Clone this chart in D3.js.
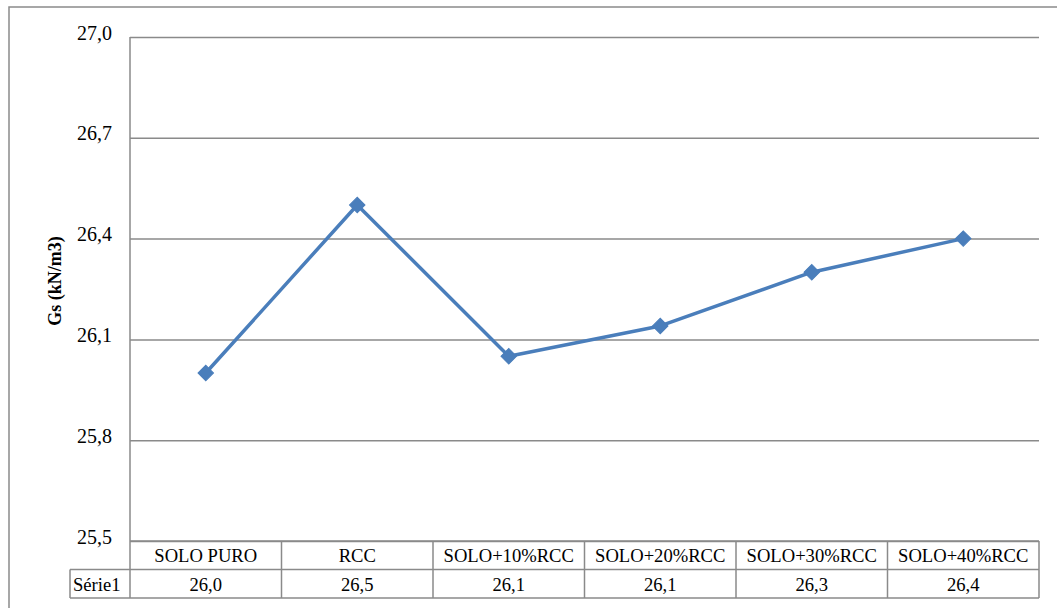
<!DOCTYPE html>
<html>
<head>
<meta charset="utf-8">
<script src="https://cdn.jsdelivr.net/npm/d3@7"></script>
<style>
  html, body { margin: 0; padding: 0; background: #fff; }
  svg { display: block; }
  svg text { font-family: "Times New Roman", "Liberation Serif", "DejaVu Serif", serif !important; }
</style>
</head>
<body>
<svg id="chart" width="1057" height="608"></svg>
<script>
const categories = ["SOLO PURO", "RCC", "SOLO+10%RCC", "SOLO+20%RCC", "SOLO+30%RCC", "SOLO+40%RCC"];
const values = [26.00, 26.50, 26.05, 26.14, 26.30, 26.40];
const seriesName = "Série1";
const yTicks = [25.5, 25.8, 26.1, 26.4, 26.7, 27.0];
const yTitle = "Gs (kN/m3)";

const W = 1057, H = 608;
const FONT = "'Times New Roman', 'Liberation Serif', 'DejaVu Serif', serif";
const plot = { left: 130, right: 1039, top: 37, bottom: 541 };
const rowH1 = 28.5, rowH2 = 28.5;
const seriesCellLeft = 70;

const locale = d3.formatLocale({ decimal: ",", thousands: ".", grouping: [3], currency: ["", ""] });
const fmt = locale.format(".1f");

const svg = d3.select("#chart").attr("font-family", FONT);

// outer chart frame (extends beyond the view on right and bottom)
svg.append("rect")
  .attr("x", 9).attr("y", 7)
  .attr("width", W + 20).attr("height", H + 20)
  .attr("fill", "#fff")
  .attr("stroke", "#8a8a8a").attr("stroke-width", 1.5);

const x = d3.scaleBand().domain(categories).range([plot.left, plot.right]).padding(0);
const y = d3.scaleLinear().domain([25.5, 27.0]).range([plot.bottom, plot.top]);

// gridlines + y tick labels
const yAxis = d3.axisLeft(y).tickValues(yTicks).tickFormat(fmt)
  .tickSize(-(plot.right - plot.left)).tickPadding(18);
const gy = svg.append("g").attr("transform", `translate(${plot.left},0)`).call(yAxis)
  .attr("font-family", FONT).attr("font-size", 20);
gy.select(".domain").remove();
gy.selectAll(".tick line").attr("stroke", "#8a8a8a").attr("stroke-width", 1.5);
gy.selectAll(".tick text")
  .attr("fill", "#000")
  .attr("font-family", FONT)
  .attr("font-size", 20)
  .attr("dy", "0.1em");

// left axis line
svg.append("line")
  .attr("x1", plot.left).attr("x2", plot.left)
  .attr("y1", plot.top).attr("y2", plot.bottom)
  .attr("stroke", "#8a8a8a").attr("stroke-width", 1.5);

// y axis title
svg.append("text")
  .attr("transform", `translate(61,${(plot.top + plot.bottom) / 2 - 8}) rotate(-90)`)
  .attr("text-anchor", "middle")
  .attr("font-family", FONT)
  .attr("font-size", 18)
  .attr("font-weight", "bold")
  .text(yTitle);

// series line
const cx = d => x(d) + x.bandwidth() / 2;
const data = categories.map((c, i) => ({ c, v: values[i] }));
const line = d3.line().x(d => cx(d.c)).y(d => y(d.v));
svg.append("path")
  .datum(data)
  .attr("d", line)
  .attr("fill", "none")
  .attr("stroke", "#4a7ebb")
  .attr("stroke-width", 3.5)
  .attr("stroke-linejoin", "round");

const sym = d3.symbol().type(d3.symbolSquare).size(120);
svg.selectAll(".marker").data(data).enter().append("path")
  .attr("class", "marker")
  .attr("d", sym)
  .attr("transform", d => `translate(${cx(d.c)},${y(d.v)}) rotate(45)`)
  .attr("fill", "#4a7ebb")
  .attr("stroke", "#4a7ebb")
  .attr("stroke-width", 1);

// data table
const tTop = plot.bottom;
const tMid = tTop + rowH1;
const tBot = tMid + rowH2;
const tg = svg.append("g").attr("font-family", FONT).attr("font-size", 18.6);
const border = { stroke: "#8a8a8a", w: 1.5 };

[[plot.left, tTop], [seriesCellLeft, tMid], [seriesCellLeft, tBot]].forEach(([x0, yy]) => {
  tg.append("line").attr("x1", x0).attr("x2", plot.right).attr("y1", yy).attr("y2", yy)
    .attr("stroke", border.stroke).attr("stroke-width", border.w);
});
tg.append("line").attr("x1", seriesCellLeft).attr("x2", seriesCellLeft).attr("y1", tMid).attr("y2", tBot)
  .attr("stroke", border.stroke).attr("stroke-width", border.w);
const edges = categories.map(c => x(c)).concat([plot.right]);
tg.selectAll(".vline").data(edges).enter().append("line")
  .attr("x1", d => d).attr("x2", d => d).attr("y1", tTop).attr("y2", tBot)
  .attr("stroke", border.stroke).attr("stroke-width", border.w);

tg.selectAll(".hdr").data(categories).enter().append("text")
  .attr("x", d => cx(d)).attr("y", tTop + rowH1 / 2 + 7)
  .attr("text-anchor", "middle").text(d => d);
tg.selectAll(".val").data(data).enter().append("text")
  .attr("x", d => cx(d.c)).attr("y", tMid + rowH2 / 2 + 7)
  .attr("text-anchor", "middle").text(d => fmt(d.v));
tg.append("text")
  .attr("x", seriesCellLeft + 3).attr("y", tMid + rowH2 / 2 + 7)
  .text(seriesName);
</script>
</body>
</html>
